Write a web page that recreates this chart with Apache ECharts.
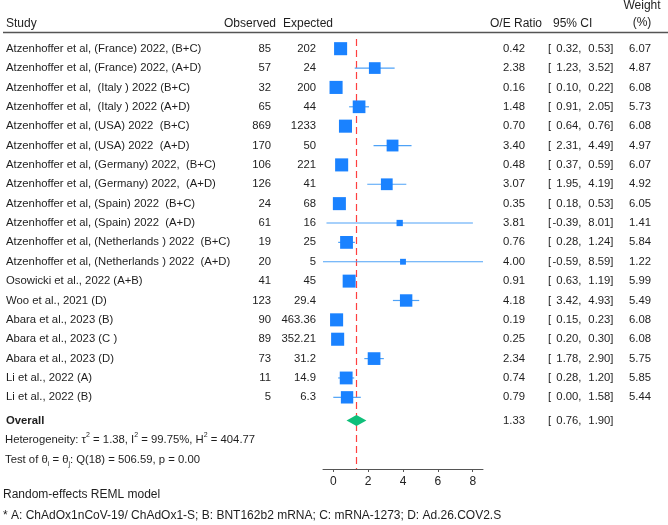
<!DOCTYPE html>
<html>
<head>
<meta charset="utf-8">
<script src="https://cdn.jsdelivr.net/npm/echarts@6/dist/echarts.min.js"></script>
<style>html,body{margin:0;padding:0;background:#fff}#main{width:668px;height:525px}</style>
</head>
<body>
<div id="main"></div>
<script>
var studies = [
    'Atzenhoffer et al, (France) 2022, (B+C)',
    'Atzenhoffer et al, (France) 2022, (A+D)',
    'Atzenhoffer et al,  (Italy ) 2022 (B+C)',
    'Atzenhoffer et al,  (Italy ) 2022 (A+D)',
    'Atzenhoffer et al, (USA) 2022  (B+C)',
    'Atzenhoffer et al, (USA) 2022  (A+D)',
    'Atzenhoffer et al, (Germany) 2022,  (B+C)',
    'Atzenhoffer et al, (Germany) 2022,  (A+D)',
    'Atzenhoffer et al, (Spain) 2022  (B+C)',
    'Atzenhoffer et al, (Spain) 2022  (A+D)',
    'Atzenhoffer et al, (Netherlands ) 2022  (B+C)',
    'Atzenhoffer et al, (Netherlands ) 2022  (A+D)',
    'Osowicki et al., 2022 (A+B)',
    'Woo et al., 2021 (D)',
    'Abara et al., 2023 (B)',
    'Abara et al., 2023 (C )',
    'Abara et al., 2023 (D)',
    'Li et al., 2022 (A)',
    'Li et al., 2022 (B)'
];
var observed = [85, 57, 32, 65, 869, 170, 106, 126, 24, 61, 19, 20, 41, 123, 90, 89, 73, 11, 5];
var expected = ['202', '24', '200', '44', '1233', '50', '221', '41', '68', '16', '25', '5', '45', '29.4', '463.36', '352.21', '31.2', '14.9', '6.3'];
var ratio = [0.42, 2.38, 0.16, 1.48, 0.70, 3.40, 0.48, 3.07, 0.35, 3.81, 0.76, 4.00, 0.91, 4.18, 0.19, 0.25, 2.34, 0.74, 0.79];
var ciLow = [0.32, 1.23, 0.10, 0.91, 0.64, 2.31, 0.37, 1.95, 0.18, -0.39, 0.28, -0.59, 0.63, 3.42, 0.15, 0.20, 1.78, 0.28, 0.00];
var ciHigh = [0.53, 3.52, 0.22, 2.05, 0.76, 4.49, 0.59, 4.19, 0.53, 8.01, 1.24, 8.59, 1.19, 4.93, 0.23, 0.30, 2.90, 1.20, 1.58];
var weight = [6.07, 4.87, 6.08, 5.73, 6.08, 4.97, 6.07, 4.92, 6.05, 1.41, 5.84, 1.22, 5.99, 5.49, 6.08, 6.08, 5.75, 5.85, 5.44];
var overallEst = 1.33;
var overallLow = 0.76;
var overallHigh = 1.90;
var xTicks = [0, 2, 4, 6, 8];

var FONT = "'Liberation Sans', Arial, sans-serif";
var BODY = '11.3px ' + FONT;
var HEAD = '12px ' + FONT;
var chart = echarts.init(document.getElementById('main'));

var rows = ratio.map(function (r, i) {
    return [r, i, ciLow[i], ciHigh[i], weight[i]];
});
var overallRow = studies.length + 0.2;

chart.setOption({
    animation: false,
    grid: {left: 323, right: 185, top: 39, bottom: 56},
    xAxis: {
        type: 'value',
        min: -0.59,
        max: 8.59,
        splitLine: {show: false},
        axisLine: {onZero: false, lineStyle: {color: '#555', width: 1}},
        axisTick: {customValues: xTicks, length: 3, lineStyle: {color: '#555'}},
        axisLabel: {customValues: xTicks, color: '#222', fontSize: 12, fontFamily: FONT, margin: 7}
    },
    yAxis: {type: 'value', inverse: true, min: -0.5, max: 21.7, show: false},
    series: [
        {
            // overall estimate reference line, drawn behind the markers
            type: 'line',
            data: [],
            z: 1,
            markLine: {
                z: 1,
                silent: true,
                symbol: 'none',
                label: {show: false},
                lineStyle: {color: '#ff4040', type: [7, 4], width: 1.2},
                data: [{xAxis: overallEst}]
            }
        },
        {
            type: 'custom',
            data: rows,
            renderItem: function (params, api) {
                var c = api.coord([api.value(0), api.value(1)]);
                var lo = api.coord([api.value(2), api.value(1)]);
                var hi = api.coord([api.value(3), api.value(1)]);
                var s = 5.3 * Math.sqrt(api.value(4));
                return {
                    type: 'group',
                    children: [
                        {type: 'line', shape: {x1: lo[0], y1: lo[1], x2: hi[0], y2: hi[1]},
                            style: {stroke: '#4ea2f7', lineWidth: 1.2}},
                        {type: 'rect', shape: {x: c[0] - s / 2, y: c[1] - s / 2, width: s, height: s},
                            style: {fill: '#1a82ff'}}
                    ]
                };
            },
            z: 3
        },
        {
            type: 'custom',
            data: [[overallEst, overallRow, overallLow, overallHigh]],
            renderItem: function (params, api) {
                var c = api.coord([api.value(0), api.value(1)]);
                var lo = api.coord([api.value(2), api.value(1)]);
                var hi = api.coord([api.value(3), api.value(1)]);
                return {
                    type: 'polygon',
                    shape: {points: [[lo[0], c[1]], [c[0], c[1] - 5.5], [hi[0], c[1]], [c[0], c[1] + 5.5]]},
                    style: {fill: '#10bf7a'}
                };
            },
            z: 4
        }
    ]
});

// table text
function rowY(i) {
    return chart.convertToPixel({gridIndex: 0}, [0, i])[1];
}
function txt(x, y, s, align, font) {
    return {type: 'text', silent: true, style: {
        text: s, x: x, y: y, fill: '#1e1e1e', font: font || BODY,
        textAlign: align || 'left', textVerticalAlign: 'middle'
    }};
}
function fix(v) {
    return v.toFixed(2);
}

var g = [];
g.push(txt(6, 24, 'Study', 'left', HEAD));
g.push(txt(276, 24, 'Observed', 'right', HEAD));
g.push(txt(283, 24, 'Expected', 'left', HEAD));
g.push(txt(542, 24, 'O/E Ratio', 'right', HEAD));
g.push(txt(553, 24, '95% CI', 'left', HEAD));
g.push(txt(642, 6, 'Weight', 'center', HEAD));
g.push(txt(642, 23, '(%)', 'center', HEAD));
g.push({type: 'line', shape: {x1: 3, y1: 32.5, x2: 668, y2: 32.5}, style: {stroke: '#555', lineWidth: 1.5}, silent: true});

studies.forEach(function (name, i) {
    var y = rowY(i);
    g.push(txt(6, y, name));
    g.push(txt(271, y, String(observed[i]), 'right'));
    g.push(txt(316, y, expected[i], 'right'));
    g.push(txt(525, y, fix(ratio[i]), 'right'));
    g.push(txt(548, y, '['));
    g.push(txt(581.5, y, fix(ciLow[i]) + ',', 'right'));
    g.push(txt(613.5, y, fix(ciHigh[i]) + ']', 'right'));
    g.push(txt(651, y, fix(weight[i]), 'right'));
});

var oy = rowY(overallRow);
g.push(txt(6, oy, 'Overall', 'left', 'bold ' + BODY));
g.push(txt(525, oy, fix(overallEst), 'right'));
g.push(txt(548, oy, '['));
g.push(txt(581.5, oy, fix(overallLow) + ',', 'right'));
g.push(txt(613.5, oy, fix(overallHigh) + ']', 'right'));

var rich = {
    n: {fontSize: 11.3, fontFamily: FONT, fill: '#1e1e1e', lineHeight: 16},
    sup: {fontSize: 7, fontFamily: FONT, fill: '#1e1e1e', verticalAlign: 'top', lineHeight: 16},
    sub: {fontSize: 7, fontFamily: FONT, fill: '#1e1e1e', verticalAlign: 'bottom', lineHeight: 14}
};
g.push({type: 'text', silent: true, style: {
    x: 5, y: 440, textVerticalAlign: 'middle', rich: rich,
    text: '{n|Heterogeneity: \u03c4}{sup|2}{n| = 1.38, I}{sup|2}{n| = 99.75%, H}{sup|2}{n| = 404.77}'
}});
g.push({type: 'text', silent: true, style: {
    x: 5, y: 459.5, textVerticalAlign: 'middle', rich: rich,
    text: '{n|Test of \u03b8}{sub|i}{n| = \u03b8}{sub|j}{n|: Q(18) = 506.59, p = 0.00}'
}});
g.push(txt(3, 495, 'Random-effects REML model', 'left', HEAD));
g.push(txt(3, 516, '* A: ChAdOx1nCoV-19/ ChAdOx1-S; B: BNT162b2 mRNA; C: mRNA-1273; D: Ad.26.COV2.S', 'left', HEAD));

chart.setOption({graphic: g});
</script>
</body>
</html>
